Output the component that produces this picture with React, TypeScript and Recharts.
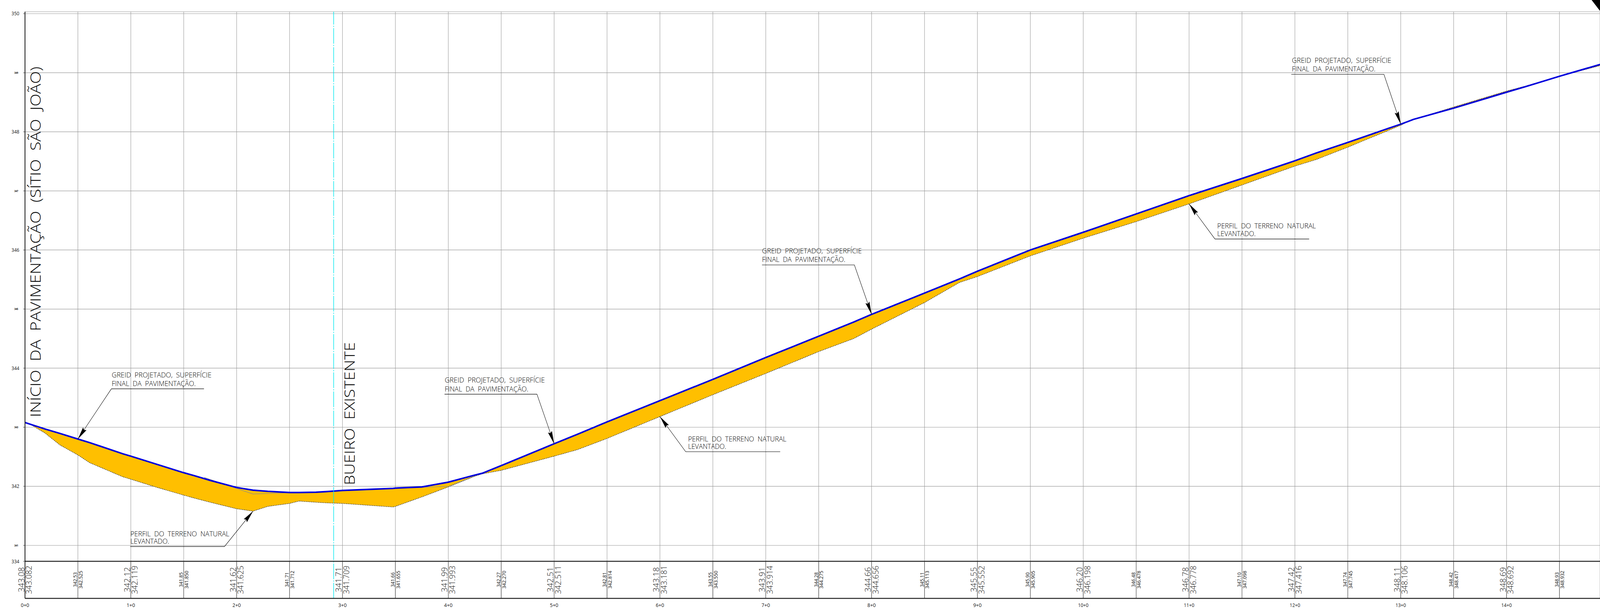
import React from 'react';
import {
    ComposedChart,
    Area,
    Line,
    XAxis,
    YAxis,
    CartesianGrid,
    ReferenceLine,
    ReferenceDot
} from 'recharts';

// perfil longitudinal: estacas (1 estaca = 20 m) e cotas
const stations = [
    0, 0.05, 0.19, 0.33, 0.5, 0.61, 0.925, 1, 1.25, 1.5, 1.6, 1.75, 2, 2.155, 2.295, 2.5, 2.59, 2.75, 2.845, 3,
    3.478, 3.5, 3.75, 4, 4.25, 4.32, 4.5, 5, 5.22, 5.5, 6, 6.5, 7, 7.5, 7.83, 8, 8.5, 8.83, 9, 9.5, 10, 10.5, 11,
    11.5, 12, 12.2, 12.5, 13, 13.07, 13.12, 13.5, 14, 14.19, 14.5, 14.883
];
const gradeValues = [
    343.08, 343.05, 342.97, 342.895, 342.8, 342.74, 342.55, 342.51, 342.37, 342.23, 342.18, 342.1, 341.98, 341.935,
    341.915, 341.895, 341.895, 341.9, 341.91, 341.93, 341.965, 341.97, 341.99, 342.07, 342.19, 342.22, 342.35, 342.72,
    342.88, 343.09, 343.45, 343.81, 344.18, 344.54, 344.78, 344.91, 345.27, 345.51, 345.64, 346.0, 346.3, 346.61,
    346.92, 347.21, 347.51, 347.64, 347.82, 348.13, 348.175, 348.21, 348.4, 348.67, 348.77, 348.94, 349.14
];
const terrainValues = [
    343.08, 343.05, 342.9, 342.7, 342.53, 342.4, 342.16, 342.12, 341.98, 341.85, 341.8, 341.73, 341.62, 341.58,
    341.66, 341.71, 341.75, 341.73, 341.72, 341.71, 341.65, 341.66, 341.82, 341.99, 342.17, 342.21, 342.27, 342.51,
    342.62, 342.81, 343.18, 343.55, 343.91, 344.28, 344.5, 344.66, 345.11, 345.45, 345.55, 345.9, 346.2, 346.48,
    346.78, 347.1, 347.42, 347.53, 347.74, 348.11, 348.175, 348.21, 348.42, 348.69, 348.78, 348.94, 349.12
];

// tangentes do greid (linha cinza fina que aparece junto das curvas verticais)
const tangentStations = [1.694, 2.154, 2.62, 3, 3.54, 4.005, 4.49];
const tangentValues = [342.15, 341.87, 341.9, null, 341.97, 342.0, 342.35];

// tabela inferior: terreno com 2 e com 3 casas, a cada meia estaca
const bandStations = [
    0, 0.5, 1, 1.5, 2, 2.5, 3, 3.5, 4, 4.5, 5, 5.5, 6, 6.5, 7, 7.5, 8, 8.5, 9, 9.5, 10, 10.5, 11, 11.5, 12, 12.5, 13,
    13.5, 14, 14.5
];
const bandRounded = [
    '343.08', '342.53', '342.12', '341.85', '341.62', '341.71', '341.71', '341.66', '341.99', '342.27', '342.51',
    '342.81', '343.18', '343.55', '343.91', '344.28', '344.66', '345.11', '345.55', '345.90', '346.20', '346.48',
    '346.78', '347.10', '347.42', '347.74', '348.11', '348.42', '348.69', '348.93'
];
const bandExact = [
    '343.082', '342.525', '342.119', '341.850', '341.625', '341.712', '341.709', '341.655', '341.993', '342.270',
    '342.511', '342.814', '343.181', '343.550', '343.914', '344.275', '344.656', '345.113', '345.552', '345.905',
    '346.198', '346.478', '346.778', '347.098', '347.416', '347.745', '348.106', '348.417', '348.692', '348.932'
];

const BASELINE_ELEV = 340.73;
const yTicks = [BASELINE_ELEV, 341, 342, 343, 344, 345, 346, 347, 348, 349, 350];
const yTickLabels = ['334', '341', '342', '343', '344', '345', '346', '347', '348', '349', '350'];

const GREID_1 = 'GREID  PROJETADO,  SUPERFÍCIE';
const GREID_2 = 'FINAL  DA  PAVIMENTAÇÃO.';
const PERFIL_1 = 'PERFIL  DO  TERRENO  NATURAL';
const PERFIL_2 = 'LEVANTADO.';

const WIDTH = 4572;
const HEIGHT = 1573;
// the browser window tops out at 4096 wide, so the 4572 layout gets squeezed to fit
const WINDOW_WIDTH = 4096;
const PLOT_LEFT = 71.4;
const PLOT_TOP = 30;
const BAND_TOP = 1438;
const BAND_BOTTOM = 1533;
const FONT = '"Open Sans", "Liberation Sans", sans-serif';

const rows = stations.map((station, i) => ({
    station,
    grade: gradeValues[i],
    terrain: terrainValues[i],
    fill: [terrainValues[i], gradeValues[i]]
}));
const tangentRows = tangentStations.map((station, i) => ({ station, tangent: tangentValues[i] }));

interface Callout {
    station: number;
    elev: number;
    elbow: [number, number];
    endX: number;
    textX: number;
    base1: number;
    base2: number;
    len1: number;
    len2: number;
    line1: string;
    line2: string;
}

// offsets em pixels a partir da ponta da seta
const callouts: Callout[] = [
    { station: 0.5, elev: 342.8, elbow: [95.7, -128.7], endX: 360.3, textX: 96.7, base1: -158, base2: -135.7, len1: 285, len2: 240, line1: GREID_1, line2: GREID_2 },
    { station: 2.155, elev: 341.58, elbow: [-81.6, 90.7], endX: -350.8, textX: -350.6, base1: 64.7, base2: 84, len1: 283, len2: 111, line1: PERFIL_1, line2: PERFIL_2 },
    { station: 5, elev: 342.72, elbow: [-49.1, -127], endX: -313.2, textX: -312.7, base1: -156.7, base2: -134.3, len1: 286, len2: 239, line1: GREID_1, line2: GREID_2 },
    { station: 6, elev: 343.18, elbow: [73.6, 90], endX: 343.6, textX: 80.3, base1: 63.3, base2: 83, len1: 281, len2: 109, line1: PERFIL_1, line2: PERFIL_2 },
    { station: 8, elev: 344.91, elbow: [-49.2, -126.7], endX: -313.2, textX: -313, base1: -156.7, base2: -134.3, len1: 285, len2: 238, line1: GREID_1, line2: GREID_2 },
    { station: 11, elev: 346.78, elbow: [74, 90], endX: 343.1, textX: 80.4, base1: 62.7, base2: 82.7, len1: 282, len2: 110, line1: PERFIL_1, line2: PERFIL_2 },
    { station: 13, elev: 348.13, elbow: [-48, -127.6], endX: -312.7, textX: -311, base1: -157.3, base2: -135, len1: 284, len2: 239, line1: GREID_1, line2: GREID_2 }
];

function renderCallout(c: Callout) {
    return (props: any) => {
        const { cx, cy } = props;
        const [ex, ey] = c.elbow;
        const d = Math.hypot(ex, ey);
        const ux = ex / d;
        const uy = ey / d;
        const head = `${cx},${cy} ${cx + ux * 33 - uy * 6},${cy + uy * 33 + ux * 6} ${cx + ux * 29},${cy + uy * 29} ${cx + ux * 33 + uy * 6},${cy + uy * 33 - ux * 6}`;
        return (
            <g>
                <polyline points={`${cx},${cy} ${cx + ex},${cy + ey} ${cx + c.endX},${cy + ey}`} fill="none" stroke="#000" strokeWidth={1.1} />
                <polygon points={head} fill="#000" />
                <text x={cx + c.textX} y={cy + c.base1} fontSize={19} fontFamily={FONT} fontWeight={300} fill="#000" textLength={c.len1} lengthAdjust="spacingAndGlyphs" style={{ whiteSpace: 'pre' }}>{c.line1}</text>
                <text x={cx + c.textX} y={cy + c.base2} fontSize={19} fontFamily={FONT} fontWeight={300} fill="#000" textLength={c.len2} lengthAdjust="spacingAndGlyphs" style={{ whiteSpace: 'pre' }}>{c.line2}</text>
            </g>
        );
    };
}

function renderVerticalTitle(label: string, length: number) {
    return (props: any) => (
        <text
            transform={`translate(${props.cx},${props.cy}) rotate(-90)`}
            fontSize={41}
            fontFamily={FONT}
            fontWeight={300}
            fill="#000"
            textLength={length}
            lengthAdjust="spacingAndGlyphs"
            style={{ whiteSpace: 'pre' }}
        >
            {label}
        </text>
    );
}

function StationTick(props: any) {
    const { x, payload } = props;
    const st = payload.value as number;
    const i = bandStations.indexOf(st);
    const whole = Number.isInteger(st);
    const rounded = bandRounded[i];
    const exact = bandExact[i];
    const size = whole ? 23 : 14;
    const cap = whole ? 17 : 10.5;
    return (
        <g>
            <line x1={x} x2={x} y1={BAND_TOP} y2={BAND_BOTTOM} stroke="#333" strokeWidth={1} />
            <text transform={`translate(${x - 2.5},${whole ? 1517 : 1504}) rotate(-90)`} fontSize={size} fontFamily={FONT} fontWeight={whole ? 300 : 400} fill="#111" textLength={whole ? 64 : 38} lengthAdjust="spacingAndGlyphs">{rounded}</text>
            <text transform={`translate(${x + 2.5 + cap},${whole ? 1522 : 1508}) rotate(-90)`} fontSize={size} fontFamily={FONT} fontWeight={whole ? 300 : 400} fill="#111" textLength={whole ? 73 : 46} lengthAdjust="spacingAndGlyphs">{exact}</text>
            {whole && (
                <text x={x} y={1555} textAnchor="middle" fontSize={12} fontFamily={FONT} fill="#111" textLength={st >= 10 ? 30 : 24} lengthAdjust="spacingAndGlyphs">{`${st}+0`}</text>
            )}
        </g>
    );
}

function ElevationTick(props: any) {
    const { y, payload } = props;
    const i = yTicks.indexOf(payload.value);
    const major = i === 0 || payload.value % 2 === 0;
    return (
        <text
            x={major ? 55 : 52}
            y={y + (major ? 4.5 : 2.5)}
            textAnchor="end"
            fontSize={major ? 12 : 7}
            fontWeight={major ? 400 : 700}
            fontFamily={FONT}
            fill="#111"
            textLength={major ? 22 : 11}
            lengthAdjust="spacingAndGlyphs"
        >
            {yTickLabels[i]}
        </text>
    );
}

export default function App() {
    return (
        <div style={{ position: 'absolute', left: 0, top: 0, width: WINDOW_WIDTH, height: HEIGHT, background: '#fff', overflow: 'hidden' }}>
            <div style={{ width: WIDTH, height: HEIGHT, position: 'relative', transform: `scaleX(${WINDOW_WIDTH / WIDTH})`, transformOrigin: '0 0' }}>
                <ComposedChart
                    width={WIDTH}
                    height={HEIGHT}
                    data={rows}
                    margin={{ top: PLOT_TOP, right: 0, bottom: 0, left: 0 }}
                >
                    <XAxis
                        type="number"
                        dataKey="station"
                        domain={[0, 14.883]}
                        ticks={bandStations}
                        interval={0}
                        allowDataOverflow
                        height={HEIGHT - BAND_BOTTOM}
                        axisLine={false}
                        tickLine={false}
                        tick={<StationTick />}
                    />
                    <YAxis
                        type="number"
                        width={PLOT_LEFT}
                        domain={[340.103, 350.033]}
                        ticks={yTicks}
                        interval={0}
                        allowDataOverflow
                        axisLine={{ stroke: '#000', strokeWidth: 2 }}
                        tickLine={{ stroke: '#222', strokeWidth: 1 }}
                        tickSize={5}
                        tick={<ElevationTick />}
                    />
                    <Area
                        dataKey="fill"
                        type="linear"
                        fill="#ffbf00"
                        fillOpacity={1}
                        stroke="none"
                        dot={false}
                        activeDot={false}
                        isAnimationActive={false}
                    />
                    <CartesianGrid stroke="#9a9a9a" strokeWidth={1.2} />
                    <Line dataKey="terrain" type="linear" stroke="#222" strokeWidth={1.2} strokeDasharray="3 2" dot={false} activeDot={false} isAnimationActive={false} />
                    <Line data={tangentRows} dataKey="tangent" type="linear" stroke="#8a8a8a" strokeWidth={1.2} dot={false} activeDot={false} isAnimationActive={false} />
                    <Line dataKey="grade" type="linear" stroke="#0000dd" strokeWidth={4} dot={false} activeDot={false} isAnimationActive={false} />
                    <ReferenceLine x={2.917} stroke="#00e8f0" strokeWidth={1.6} strokeDasharray="40 3 3 3" segment={[{ x: 2.917, y: 350.033 }, { x: 2.917, y: BASELINE_ELEV }]} />
                    <ReferenceLine y={BASELINE_ELEV} stroke="#222" strokeWidth={2.5} />
                    <ReferenceLine y={340.103} stroke="#222" strokeWidth={2.5} />
                    <ReferenceDot x={0.148} y={343.17} r={1} ifOverflow="visible" shape={renderVerticalTitle('INÍCIO  DA  PAVIMENTAÇÃO  (SÍTIO  SÃO  JOÃO)', 898)} />
                    <ReferenceDot x={3.115} y={342.02} r={1} ifOverflow="visible" shape={renderVerticalTitle('BUEIRO  EXISTENTE', 366)} />
                    {callouts.map((c, i) => (
                        <ReferenceDot key={i} x={c.station} y={c.elev} r={1} ifOverflow="visible" shape={renderCallout(c)} />
                    ))}
                </ComposedChart>
                <svg width={WIDTH} height={40} style={{ position: 'absolute', left: 0, top: 0 }}>
                    <polygon points="4548,0 4572,0 4572,28" fill="#000" />
                </svg>
            </div>
        </div>
    );
}
